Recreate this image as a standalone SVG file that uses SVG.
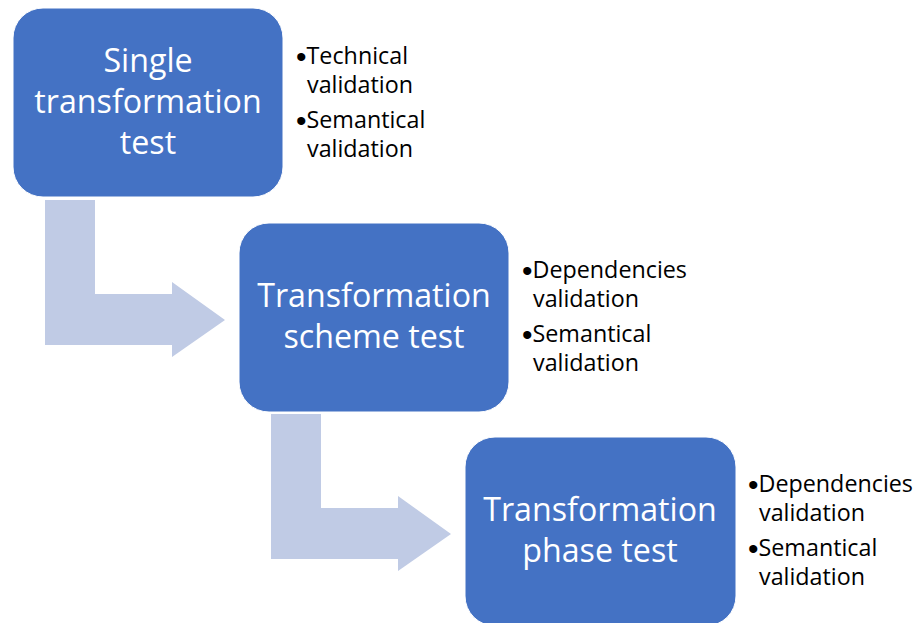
<svg xmlns="http://www.w3.org/2000/svg" width="918" height="623" viewBox="0 0 918 623">
<style>
.box{fill:#4472C4;stroke:#ffffff;stroke-width:1}
.arr{fill:#C0CBE5}
.t{font-family:"Open Sans","Liberation Sans",sans-serif;font-size:32.2px;fill:#ffffff;text-anchor:middle}
.b{font-family:"Open Sans","Liberation Sans",sans-serif;font-size:23.3px;fill:#000000}
.d{font-family:"Liberation Sans",sans-serif;font-size:30px}
</style>
<rect width="918" height="623" fill="#ffffff"/>
<g id="connectors">
<path class="arr" d="M45,200 H95 V294 H172 V282 L225,320 L172,357 V345 H45 Z"/>
<path class="arr" d="M271,414 H321 V508 H398 V496 L451,534 L398,571 V559 H271 Z"/>
</g>
<g id="node1">
<rect class="box" x="13" y="8" width="270" height="189" rx="30"/>
<text class="t" x="148" y="72">Single</text>
<text class="t" x="148" y="113">transformation</text>
<text class="t" x="148" y="154">test</text>
<text class="b"><tspan x="296" y="67" class="d">•</tspan><tspan dy="-3">Technical</tspan><tspan x="307" y="93">validation</tspan><tspan x="296" y="131" class="d">•</tspan><tspan dy="-3">Semantical</tspan><tspan x="307" y="157">validation</tspan></text>
</g>
<g id="node2">
<rect class="box" x="239" y="223" width="270" height="189" rx="30"/>
<text class="t" x="374" y="307">Transformation</text>
<text class="t" x="374" y="348">scheme test</text>
<text class="b"><tspan x="522" y="281" class="d">•</tspan><tspan dy="-3">Dependencies</tspan><tspan x="533" y="307">validation</tspan><tspan x="522" y="345" class="d">•</tspan><tspan dy="-3">Semantical</tspan><tspan x="533" y="371">validation</tspan></text>
</g>
<g id="node3">
<rect class="box" x="465" y="437" width="271" height="189" rx="30"/>
<text class="t" x="600" y="521">Transformation</text>
<text class="t" x="600" y="562">phase test</text>
<text class="b"><tspan x="748" y="495" class="d">•</tspan><tspan dy="-3">Dependencies</tspan><tspan x="759" y="521">validation</tspan><tspan x="748" y="559" class="d">•</tspan><tspan dy="-3">Semantical</tspan><tspan x="759" y="585">validation</tspan></text>
</g>
</svg>
